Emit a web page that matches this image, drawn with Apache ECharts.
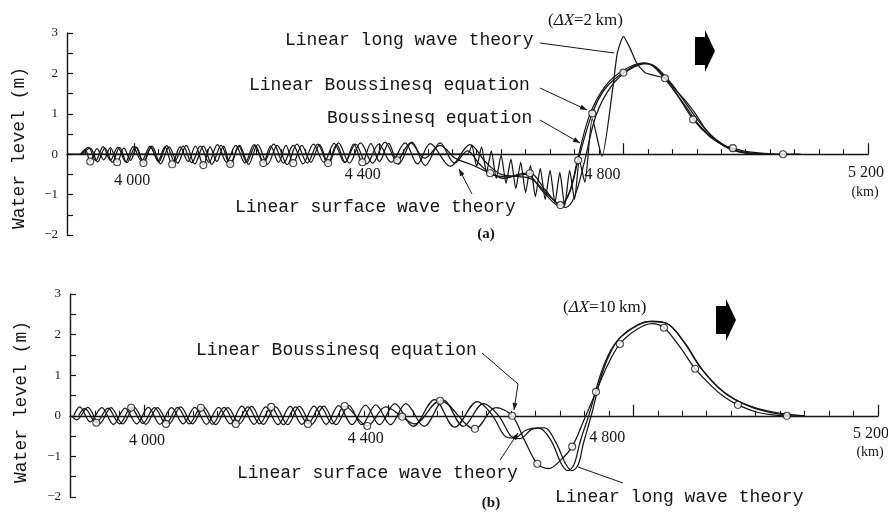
<!DOCTYPE html>
<html><head><meta charset="utf-8">
<script src="https://cdn.jsdelivr.net/npm/echarts@6/dist/echarts.min.js"></script>
<style>html,body{margin:0;padding:0;background:#fff}#c{width:888px;height:512px}</style>
</head><body><div id="c"></div>
<script>
// ---------------- DATA ----------------
const xMajorKm = [4000, 4400, 4800, 5200];
const xMajorText = ['4 000', '4 400', '4 800', '5 200'];
const xMinorKm = [3920,3960,4000,4040,4080,4120,4160,4200,4240,4280,4320,4360,4400,4440,4480,4520,4560,4600,4640,4680,4720,4760,4800,4840,4880,4920,4960,5000,5040,5080,5120,5160,5200];
const yTickLabels = [-2, -1, 0, 1, 2, 3];

// Panel (a)  [km, m]
const aLinBoussinesq = [[3912,0],[3920,0.1],[3928,-0.18],[3939,0.14],[3950,-0.14],[3961,0.16],[3972,-0.2],[3983,0.15],[3994,-0.15],[4004,0.17],[4015,-0.22],[4027,0.16],[4039,-0.16],[4050,0.18],[4062,-0.25],[4075,0.18],[4088,-0.18],[4100,0.2],[4113,-0.27],[4124,0.18],[4135,-0.18],[4146,0.2],[4157,-0.24],[4171,0.2],[4184,-0.2],[4198,0.22],[4211,-0.22],[4223,0.2],[4236,-0.2],[4248,0.22],[4260,-0.22],[4274,0.22],[4289,-0.2],[4303,0.24],[4317,-0.22],[4331,0.24],[4345,-0.2],[4359,0.25],[4373,-0.2],[4387,0.26],[4401,-0.18],[4416,0.27],[4430,-0.15],[4452,0.28],[4475,-0.1],[4500,0.22],[4525,-0.1],[4550,-0.25],[4582,-0.47],[4605,-0.6],[4628,-0.5],[4647,-0.47],[4672,-0.88],[4697,-1.26],[4712,-0.95],[4726,-0.15],[4749,1.01],[4770,1.62],[4800,2.02],[4832,2.25],[4850,2.18],[4868,1.88],[4890,1.42],[4914,0.86],[4940,0.45],[4960,0.25],[4979,0.15],[5000,0.07],[5030,0.02],[5061,0],[5090,0]];
const aCircleKm = [3928,3972,4015,4062,4113,4157,4211,4260,4317,4373,4430,4582,4647,4697,4726,4749,4800,4868,4914,4979,5061];
const aSurface = [[3912,0],[3925,0.17],[3937,-0.16],[3949,0.19],[3961,-0.15],[3973,0.17],[3986,-0.19],[3998,0.19],[4012,-0.17],[4026,0.2],[4040,-0.19],[4053,0.21],[4066,-0.18],[4080,0.2],[4094,-0.21],[4108,0.2],[4122,-0.2],[4136,0.24],[4151,-0.2],[4166,0.22],[4181,-0.22],[4196,0.24],[4212,-0.2],[4228,0.25],[4244,-0.22],[4260,0.22],[4276,-0.24],[4293,0.25],[4310,-0.2],[4327,0.27],[4344,-0.21],[4362,0.25],[4380,-0.24],[4400,0.25],[4420,-0.2],[4443,0.28],[4463,-0.24],[4484,0.26],[4517,-0.3],[4549,0.24],[4575,-0.2],[4600,-0.5],[4625,-0.55],[4650,-0.62],[4680,-1.05],[4705,-1.32],[4720,-1.05],[4736,-0.2],[4755,0.95],[4780,1.68],[4810,2.1],[4840,2.24],[4870,1.9],[4900,1.3],[4925,0.78],[4950,0.38],[4975,0.14],[5000,0.04],[5030,0]];
const aBoussinesq = [[3915,0],[3928,0.15],[3940,-0.19],[3952,0.15],[3964,-0.2],[3976,0.17],[3988,-0.21],[4002,0.18],[4015,-0.2],[4029,0.2],[4043,-0.24],[4057,0.18],[4071,-0.22],[4085,0.22],[4099,-0.24],[4113,0.2],[4127,-0.25],[4142,0.22],[4157,-0.27],[4172,0.22],[4187,-0.25],[4202,0.24],[4218,-0.25],[4234,0.22],[4250,-0.26],[4266,0.25],[4283,-0.22],[4300,0.25],[4317,-0.24],[4334,0.28],[4352,-0.22],[4370,0.28],[4390,-0.22],[4410,0.3],[4432,-0.25],[4454,0.3],[4476,-0.28],[4500,0.28],[4524,-0.22],[4545,0.08],[4565,-0.25],[4585,-0.5],[4610,-0.56],[4640,-0.5],[4670,-0.95],[4695,-1.28],[4712,-0.92],[4727,0.0],[4745,0.98],[4770,1.68],[4800,2.08],[4835,2.26],[4868,1.86],[4900,1.22],[4925,0.7],[4955,0.3],[4985,0.08],[5020,0]];
const aLongWave = [[3890,0],[4545,0],[4552,0.22],[4560,-0.3],[4568,0.18],[4576,-0.45],[4584,0.08],[4592,-0.6],[4600,-0.02],[4608,-0.72],[4616,-0.12],[4624,-0.85],[4632,-0.2],[4640,-0.95],[4648,-0.28],[4656,-1.05],[4664,-0.35],[4672,-1.12],[4680,-0.4],[4688,-1.2],[4696,-0.45],[4704,-1.28],[4712,-0.4],[4720,-1.12],[4728,-0.15],[4737,-0.7],[4749,0.88],[4765,-0.05],[4783,1.68],[4790,2.5],[4800,2.91],[4810,2.65],[4822,2.25],[4835,2.02],[4850,1.95],[4868,1.88],[4885,1.6],[4900,1.35],[4918,1.0],[4935,0.6],[4955,0.3],[4975,0.12],[5000,0.03],[5030,0]];

// Panel (b)  [km, m]
const bLinBoussinesq = [[3893,0],[3903,0.18],[3922,-0.17],[3941,0.19],[3960,-0.2],[3979,0.2],[3998,-0.19],[4017,0.2],[4036,-0.2],[4055,0.21],[4074,-0.2],[4093,0.2],[4112,-0.21],[4131,0.21],[4150,-0.2],[4170,0.22],[4189,-0.2],[4208,0.22],[4228,-0.22],[4248,0.22],[4268,-0.2],[4288,0.24],[4308,-0.2],[4328,0.24],[4365,-0.25],[4395,0.22],[4422,-0.02],[4442,-0.2],[4484,0.37],[4541,-0.32],[4575,0.2],[4602,0.0],[4622,-0.6],[4643,-1.18],[4662,-1.3],[4682,-1.08],[4700,-0.76],[4720,-0.08],[4739,0.59],[4758,1.25],[4778,1.77],[4805,2.12],[4830,2.27],[4850,2.17],[4875,1.72],[4901,1.16],[4930,0.7],[4950,0.45],[4971,0.27],[5000,0.1],[5025,0.03],[5051,0],[5080,0]];
const bCircleKm = [3922,3979,4036,4093,4150,4208,4268,4328,4365,4422,4484,4541,4602,4643,4700,4739,4778,4850,4901,4971,5051];
const bSurface = [[3885,0],[3895,0.22],[3912,-0.15],[3931,0.2],[3950,-0.21],[3969,0.19],[3988,-0.2],[4007,0.21],[4026,-0.21],[4045,0.2],[4064,-0.2],[4083,0.21],[4102,-0.21],[4122,0.21],[4141,-0.2],[4160,0.24],[4180,-0.21],[4199,0.22],[4219,-0.22],[4239,0.23],[4258,-0.21],[4278,0.24],[4298,-0.21],[4318,0.25],[4340,-0.22],[4362,0.26],[4385,-0.22],[4410,0.3],[4440,-0.26],[4475,0.4],[4508,-0.28],[4545,0.35],[4570,0.0],[4590,-0.5],[4605,-0.55],[4625,-0.35],[4645,-0.3],[4665,-0.6],[4683,-1.2],[4693,-1.35],[4703,-1.2],[4713,-0.64],[4729,0.1],[4746,1.0],[4762,1.58],[4778,1.92],[4806,2.22],[4827,2.32],[4855,2.27],[4881,1.85],[4909,1.2],[4937,0.73],[4963,0.43],[4991,0.24],[5019,0.12],[5050,0.04],[5080,0]];
const bLongWave = [[3882,0],[3890,-0.1],[3908,0.21],[3927,-0.2],[3946,0.2],[3965,-0.2],[3984,0.21],[4003,-0.21],[4022,0.2],[4041,-0.2],[4060,0.22],[4079,-0.2],[4098,0.21],[4117,-0.22],[4137,0.2],[4156,-0.2],[4176,0.23],[4195,-0.21],[4215,0.22],[4235,-0.22],[4254,0.23],[4274,-0.21],[4294,0.24],[4314,-0.22],[4335,0.25],[4356,-0.22],[4379,0.27],[4403,-0.22],[4428,0.3],[4458,-0.26],[4490,0.38],[4522,-0.26],[4555,0.3],[4580,0.0],[4600,-0.5],[4615,-0.56],[4635,-0.33],[4655,-0.3],[4673,-0.65],[4690,-1.2],[4700,-1.35],[4710,-1.2],[4718,-0.7],[4732,0.05],[4748,1.0],[4764,1.6],[4780,1.95],[4808,2.25],[4830,2.33],[4858,2.25],[4884,1.8],[4912,1.15],[4940,0.68],[4966,0.4],[4995,0.2],[5025,0.08],[5060,0]];

// ---------------- STYLE / LAYOUT ----------------
const INK = '#151515';
const SERIF = '"Liberation Serif", "DejaVu Serif", serif';
const MONO = '"Liberation Mono", "DejaVu Sans Mono", monospace';
// tick label offsets from (tick, zero line) in px: [dx, dy]
const aLabelOffset = [[-2, 27], [-16, 21], [-21, 21], [-2, 19]];
const bLabelOffset = [[3, 25], [-23, 23], [-26, 22], [-7, 18]];

function lineSeries(name, data, xi, yi, smooth) {
  return { name, type: 'line', xAxisIndex: xi, yAxisIndex: yi, data, symbol: 'none', showSymbol: false,
    smooth, lineStyle: { color: INK, width: 1.25 }, silent: true, z: 2 };
}
function circleSeries(name, curve, kms, xi, yi) {
  const m = new Map(curve.map(p => [p[0], p[1]]));
  return { name, type: 'scatter', xAxisIndex: xi, yAxisIndex: yi, data: kms.map(k => [k, m.get(k)]),
    symbol: 'circle', symbolSize: 7, itemStyle: { color: '#fff', borderColor: INK, borderWidth: 1.1 }, silent: true, z: 5 };
}
function xAxes(grid, min, yIdx) {
  return [{
    type: 'value', gridIndex: grid, min, max: 5200, position: 'bottom',
    axisLine: { show: true, onZero: true, onZeroAxisIndex: yIdx, lineStyle: { color: INK, width: 1.4 } },
    axisTick: { show: true, inside: true, length: 11, customValues: xMajorKm, lineStyle: { color: INK, width: 1.2 } },
    axisLabel: { show: false },
    splitLine: { show: false }
  }, {
    type: 'value', gridIndex: grid, min, max: 5200, position: 'bottom',
    axisLine: { show: false, onZero: true, onZeroAxisIndex: yIdx },
    axisTick: { show: true, inside: true, length: 5, customValues: xMinorKm, lineStyle: { color: INK, width: 1.1 } },
    axisLabel: { show: false }, splitLine: { show: false }
  }];
}
function yAxis(grid) {
  return { type: 'value', gridIndex: grid, min: -2, max: 3, interval: 0.5,
    axisLine: { show: true, onZero: false, lineStyle: { color: INK, width: 1.4 } },
    axisTick: { show: true, inside: true, length: 6, lineStyle: { color: INK, width: 1.2 } },
    axisLabel: { margin: 9, fontFamily: SERIF, fontSize: 13, color: INK,
      formatter: v => yTickLabels.indexOf(v) < 0 ? '' : (v < 0 ? '\u2212' + Math.abs(v) : String(v)) },
    splitLine: { show: false } };
}
function txt(x, y, text, font, align, extra) {
  return Object.assign({ type: 'text', x, y, silent: true,
    style: { text, font, fill: INK, align: align || 'left', verticalAlign: 'middle' } }, extra || {});
}
function leader(pts) {
  return { type: 'polyline', silent: true, shape: { points: pts }, style: { stroke: INK, lineWidth: 1, fill: null } };
}
function head(p1, p2) {
  const dx = p2[0] - p1[0], dy = p2[1] - p1[1], L = Math.hypot(dx, dy), ux = dx / L, uy = dy / L;
  const bx = p2[0] - ux * 7, by = p2[1] - uy * 7;
  return { type: 'polygon', silent: true, shape: { points: [p2, [bx - uy * 2.5, by + ux * 2.5], [bx + uy * 2.5, by - ux * 2.5]] }, style: { fill: INK } };
}
function blockArrow(x0, yc) {
  return { type: 'polygon', silent: true, style: { fill: '#000' },
    shape: { points: [[x0, yc - 14], [x0 + 10, yc - 14], [x0 + 10, yc - 21], [x0 + 20, yc], [x0 + 10, yc + 21], [x0 + 10, yc + 14], [x0, yc + 14]] } };
}

const M18 = '18px ' + MONO;
const S16 = '16px ' + SERIF;
const S14 = '14px ' + SERIF;
const richDX = { i: { fontStyle: 'italic', fontFamily: SERIF, fontSize: 17, fill: INK }, n: { fontFamily: SERIF, fontSize: 17, fill: INK } };

const baseGraphic = [
  txt(19, 148, 'Water level (m)', M18, 'center', { rotation: Math.PI / 2 }),
  txt(21, 402, 'Water level (m)', M18, 'center', { rotation: Math.PI / 2 }),
  // panel (a)
  txt(285, 40, 'Linear long wave theory', M18),
  txt(249, 85, 'Linear Boussinesq equation', M18),
  txt(327, 118, 'Boussinesq equation', M18),
  txt(235, 207, 'Linear surface wave theory', M18),
  { type: 'text', x: 548, y: 21, silent: true, style: { text: '{n|(}{i|\u0394X}{n|=2\u2009km)}', rich: richDX, align: 'left', verticalAlign: 'middle' } },
  txt(486, 234, '(a)', 'bold 15px ' + SERIF, 'center'),
  txt(865, 192, '(km)', S14, 'center'),
  leader([[540, 43], [614, 53]]),
  leader([[540, 88], [587, 110]]), head([540, 88], [587, 110]),
  leader([[540, 120], [580, 143]]), head([540, 120], [580, 143]),
  leader([[472, 194], [459, 169]]), head([472, 194], [459, 169]),
  blockArrow(695, 51),
  // panel (b)
  txt(196, 350, 'Linear Boussinesq equation', M18),
  txt(237, 473, 'Linear surface wave theory', M18),
  txt(555, 497, 'Linear long wave theory', M18),
  { type: 'text', x: 563, y: 308, silent: true, style: { text: '{n|(}{i|\u0394X}{n|=10\u2009km)}', rich: richDX, align: 'left', verticalAlign: 'middle' } },
  txt(491, 503, '(b)', 'bold 15px ' + SERIF, 'center'),
  txt(870, 452, '(km)', S14, 'center'),
  leader([[482, 353], [518, 384], [514, 410]]), head([518, 384], [514, 410]),
  leader([[500, 460], [518, 433]]), head([500, 460], [518, 433]),
  leader([[623, 483], [578, 467]]),
  blockArrow(716, 320)
];

const option = {
  animation: false,
  backgroundColor: '#ffffff',
  grid: [
    { left: 67, top: 33, width: 801, height: 202, containLabel: false, outerBoundsMode: 'none' },
    { left: 70, top: 294, width: 808, height: 203, containLabel: false, outerBoundsMode: 'none' }
  ],
  xAxis: [].concat(xAxes(0, 3890, 0), xAxes(1, 3879, 1)),
  yAxis: [yAxis(0), yAxis(1)],
  series: [
    lineSeries('Linear long wave theory (a)', aLongWave, 0, 0, 0.2),
    lineSeries('Boussinesq equation (a)', aBoussinesq, 0, 0, 0.35),
    lineSeries('Linear surface wave theory (a)', aSurface, 0, 0, 0.35),
    lineSeries('Linear Boussinesq equation (a)', aLinBoussinesq, 0, 0, 0.35),
    circleSeries('Linear Boussinesq markers (a)', aLinBoussinesq, aCircleKm, 0, 0),
    lineSeries('Linear long wave theory (b)', bLongWave, 2, 1, 0.35),
    lineSeries('Linear surface wave theory (b)', bSurface, 2, 1, 0.35),
    lineSeries('Linear Boussinesq equation (b)', bLinBoussinesq, 2, 1, 0.35),
    circleSeries('Linear Boussinesq markers (b)', bLinBoussinesq, bCircleKm, 2, 1)
  ],
  graphic: baseGraphic
};
const chart = echarts.init(document.getElementById('c'), null, { renderer: 'canvas' });
chart.setOption(option);

// x tick labels placed at the axis' own tick positions (axis line sits on y = 0)
const tickLabels = [];
[[0, 0, aLabelOffset], [2, 1, bLabelOffset]].forEach(function (cfg) {
  const y0 = chart.convertToPixel({ yAxisIndex: cfg[1] }, 0);
  xMajorKm.forEach(function (k, i) {
    const x = chart.convertToPixel({ xAxisIndex: cfg[0] }, k);
    tickLabels.push(txt(x + cfg[2][i][0], y0 + cfg[2][i][1], xMajorText[i], S16, 'center'));
  });
});
chart.setOption({ graphic: baseGraphic.concat(tickLabels) });
</script>
</body></html>
